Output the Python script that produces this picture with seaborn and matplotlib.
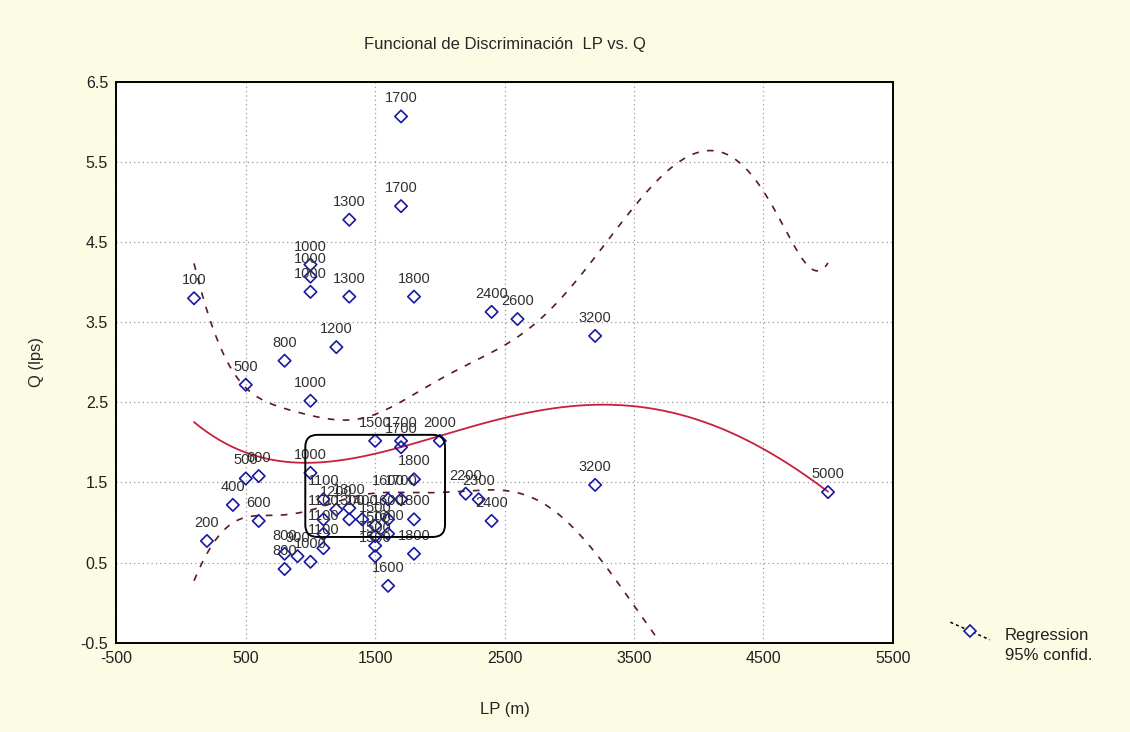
import numpy as np
import pandas as pd
import matplotlib
matplotlib.use("Agg")
import matplotlib.pyplot as plt
import seaborn as sns
from matplotlib.patches import FancyBboxPatch
from matplotlib.lines import Line2D

# ---- data ----
lp = [1700, 1700, 1300, 1000, 1000, 1000, 1300, 1800, 100, 2400,
      2600, 3200, 1200, 800, 500, 1000, 1500, 1700, 1700, 2000,
      1000, 600, 500, 400, 600, 200, 1800, 1700, 1800, 1800,
      1600, 2200, 2300, 2400, 3200, 5000, 1100, 1100, 1100, 1100,
      1200, 1300, 1300, 1400, 1500, 1500, 1500, 1500, 1600, 1600,
      1600, 800, 900, 1000, 800]
q = [6.07, 4.95, 4.78, 4.22, 4.07, 3.88, 3.82, 3.82, 3.8, 3.63,
     3.54, 3.33, 3.19, 3.02, 2.72, 2.52, 2.02, 2.02, 1.94, 2.02,
     1.62, 1.58, 1.55, 1.22, 1.02, 0.77, 1.54, 1.29, 1.04, 0.61,
     0.21, 1.36, 1.29, 1.02, 1.47, 1.38, 1.29, 1.04, 0.86, 0.68,
     1.16, 1.18, 1.04, 1.04, 0.96, 0.83, 0.71, 0.58, 1.29, 1.04,
     0.86, 0.61, 0.58, 0.51, 0.42]
point_labels = [str(v) for v in lp]

x_ticks = [-500, 500, 1500, 2500, 3500, 4500, 5500]
y_ticks = [-0.5, 0.5, 1.5, 2.5, 3.5, 4.5, 5.5, 6.5]

df = pd.DataFrame({"LP": lp, "Q": q, "label": point_labels})

# ---- polynomial regression with 95% confidence band ----
X = np.asarray(lp, float)
Y = np.asarray(q, float)
order = 4
xs = (X - 2500.0) / 1000.0
A = np.vander(xs, order + 1)
coef, *_ = np.linalg.lstsq(A, Y, rcond=None)
resid = Y - A @ coef
dof = len(X) - (order + 1)
s2 = resid @ resid / dof
cov = np.linalg.inv(A.T @ A)
xg = np.linspace(X.min(), X.max(), 300)
Ag = np.vander((xg - 2500.0) / 1000.0, order + 1)
yg = Ag @ coef
se = np.sqrt(s2 * np.einsum("ij,jk,ik->i", Ag, cov, Ag))
tval = 2.009
fit = pd.DataFrame({"LP": xg, "fit": yg, "lo": yg - tval * se, "hi": yg + tval * se})

# ---- figure ----
sns.set_style("white")
plt.rcParams["font.family"] = ["Liberation Sans", "DejaVu Sans"]
plt.rcParams["axes.unicode_minus"] = False

fig = plt.figure(figsize=(11.30, 7.32), dpi=100, facecolor="#fcfce4")
ax = fig.add_axes([0.103, 0.122, 0.687, 0.766])
ax.set_facecolor("white")

ax.set_xlim(-500, 5500)
ax.set_ylim(-0.5, 6.5)
ax.set_xticks(x_ticks)
ax.set_yticks(y_ticks)
ax.grid(True, linestyle=(0, (1, 2.5)), color="#9a9a9a", linewidth=0.9)
for sp in ax.spines.values():
    sp.set_color("black")
    sp.set_linewidth(1.4)
ax.tick_params(axis="both", labelsize=11.5, length=0, pad=6, colors="#202020")

sns.lineplot(data=fit, x="LP", y="fit", ax=ax, color="#c8203c", linewidth=1.3, zorder=3)
sns.lineplot(data=fit, x="LP", y="hi", ax=ax, color="#5a1a22", linewidth=1.2,
             linestyle=(0, (4, 5)), zorder=3)
sns.lineplot(data=fit, x="LP", y="lo", ax=ax, color="#5a1a22", linewidth=1.2,
             linestyle=(0, (4, 5)), zorder=3)

sns.scatterplot(data=df, x="LP", y="Q", ax=ax, marker="D", s=40,
                facecolor="none", edgecolor="#1818a0", linewidth=1.2, zorder=4)

for xv, yv, lab in zip(df["LP"], df["Q"], df["label"]):
    ax.annotate(lab, (xv, yv), xytext=(0, 8), textcoords="offset points",
                ha="center", va="bottom", fontsize=10.5, color="#303030", zorder=5)

# rounded highlight box
box = FancyBboxPatch((960, 0.82), 1080, 1.275,
                     boxstyle="round,pad=0,rounding_size=95",
                     mutation_aspect=0.001616,
                     fill=False, edgecolor="black", linewidth=1.4, zorder=6)
ax.add_patch(box)

ax.set_xlabel("LP (m)", fontsize=12, labelpad=26)
ax.set_ylabel("Q (lps)", fontsize=12, labelpad=26)
ax.set_title("Funcional de Discriminación  LP vs. Q", fontsize=12, pad=24)

# legend drawn by hand (diagonal sample line with marker, left-aligned text)
fig.add_artist(Line2D([0.841, 0.876], [0.150, 0.126], transform=fig.transFigure,
                      linestyle=(0, (2, 2)), color="black", linewidth=1.1))
fig.add_artist(Line2D([0.8585], [0.138], transform=fig.transFigure, marker="D",
                      markersize=6, markerfacecolor="white",
                      markeredgecolor="#1818a0", markeredgewidth=1.2))
fig.text(0.889, 0.142, "Regression\n95% confid.", ha="left", va="top",
         fontsize=12, linespacing=1.4, color="#202020")

fig.savefig("out.png", dpi=100, facecolor=fig.get_facecolor())
